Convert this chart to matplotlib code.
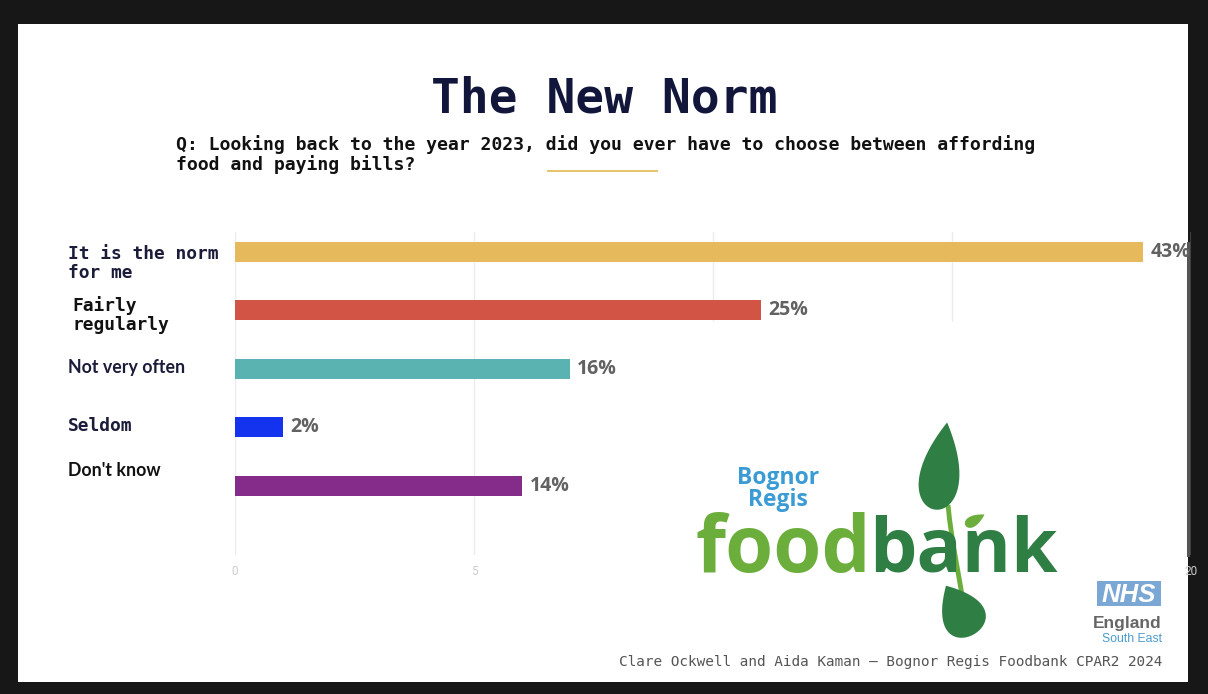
import numpy as np
import matplotlib
matplotlib.use("Agg")
from matplotlib import pyplot as plt
from matplotlib.patches import Rectangle, Polygon
from matplotlib.path import Path
from matplotlib.patches import PathPatch

# data
answers = ["It is the norm\nfor me", "Fairly\nregularly", "Not very often", "Seldom", "Don't know"]
counts = [19, 11, 7, 1, 6]
percent_labels = ["43%", "25%", "16%", "2%", "14%"]
bar_colors = ["#e5b95c", "#d15444", "#5ab3b1", "#1433ef", "#852b8a"]
x_ticks = [0, 5, 10, 15, 20]
# 10 and 15 sit behind the logo in the original
x_tick_labels = ["0", "5", "", "", "20"]

W, H = 1208, 694
fig = plt.figure(figsize=(W / 100, H / 100), dpi=100)
fig.patch.set_facecolor("#171717")

# background layer in pixel coords
bg = fig.add_axes([0, 0, 1, 1], zorder=-1)
bg.set_xlim(0, W)
bg.set_ylim(H, 0)
bg.axis("off")
bg.add_patch(Rectangle((18, 24), 1170, 658, facecolor="white", edgecolor="none"))
bg.plot([1188, 1188], [243, 555], color="#555555", lw=2.2)

bg.text(604, 112, "The New Norm", family="DejaVu Sans Mono", weight="bold",
        fontsize=34.5, color="#12163a", ha="center", va="baseline")
bg.text(176, 149.5, "Q: Looking back to the year 2023, did you ever have to choose between affording",
        family="DejaVu Sans Mono", weight="bold", fontsize=13.05, color="#111111", va="baseline")
bg.text(176, 170, "food and paying bills?",
        family="DejaVu Sans Mono", weight="bold", fontsize=13.05, color="#111111", va="baseline")
bg.plot([548, 657], [171, 171], color="#e6c36a", lw=1.4)

# chart
ax = fig.add_axes([235 / W, 1 - 555 / H, (1191 - 235) / W, (555 - 232) / H], zorder=0)
ax.set_facecolor("none")
y = np.arange(len(counts))
ax.barh(y, counts, height=0.34, color=bar_colors, zorder=2)
ax.set_xlim(0, 20)
ax.set_ylim(5.18, -0.34)
ax.set_xticks(x_ticks)
ax.set_xticklabels(x_tick_labels, family="Roboto", fontsize=8.5, color="#cccccc")
ax.tick_params(axis="x", length=0, pad=7)
ax.set_yticks([])
ax.grid(axis="x", color="#ececec", lw=1, zorder=0)
for s in ax.spines.values():
    s.set_visible(False)

for yi, c, lab in zip(y, counts, percent_labels):
    ax.text(c + 0.16, yi, lab, family="Open Sans", weight="bold", fontsize=14,
            color="#626262", va="center", ha="left", clip_on=False)

label_style = [
    dict(family="DejaVu Sans Mono", color="#1b1b3a", dx=-0.1747, dy=0.20),
    dict(family="DejaVu Sans Mono", color="#111111", dx=-0.1705, dy=0.08),
    dict(family="Lato", color="#1b1b3a", dx=-0.1747, dy=-0.03),
    dict(family="DejaVu Sans Mono", color="#1b1b3a", dx=-0.1747, dy=-0.03),
    dict(family="Lato", color="#111111", dx=-0.1747, dy=-0.26),
]
for yi, lab, st in zip(y, answers, label_style):
    fs = 12.9 if "Mono" in st["family"] else 12.8
    ax.text(st["dx"], yi + st["dy"], lab, transform=ax.get_yaxis_transform(),
            family=st["family"], weight="bold", fontsize=fs, color=st["color"],
            ha="left", va="center", linespacing=1.05, clip_on=False)

# overlay: logos and footer
ov = fig.add_axes([0, 0, 1, 1], zorder=2)
ov.set_xlim(0, W)
ov.set_ylim(H, 0)
ov.axis("off")
ov.add_patch(Rectangle((670, 322), 405, 323, facecolor="white", edgecolor="none"))


def teardrop(cx, cy, a, b, angle, color):
    t = np.linspace(0, 2 * np.pi, 120)
    xs = a * np.sin(t) * np.sin(t / 2)
    ys = -b * np.cos(t)
    th = np.deg2rad(angle)
    xr = xs * np.cos(th) - ys * np.sin(th)
    yr = xs * np.sin(th) + ys * np.cos(th)
    ov.add_patch(Polygon(np.column_stack([cx + xr, cy + yr]), closed=True,
                         facecolor=color, edgecolor="none"))


dark_green = "#2f7f45"
light_green = "#6cae3c"

ov.text(778, 484, "Bognor", family="Open Sans", weight="bold", fontsize=16.5,
        color="#3a9bd5", ha="center", va="baseline")
ov.text(778, 506, "Regis", family="Open Sans", weight="bold", fontsize=16.5,
        color="#3a9bd5", ha="center", va="baseline")
ov.text(871, 572, "food", family="Open Sans", weight="bold", fontsize=56,
        color=light_green, ha="right", va="baseline")
ov.text(869, 572, "bank", family="Open Sans", weight="bold", fontsize=54,
        color=dark_green, ha="left", va="baseline")

# stem and leaves
stem = Path([(948, 505), (952, 545), (958, 570), (962, 595)],
            [Path.MOVETO, Path.CURVE4, Path.CURVE4, Path.CURVE4])
ov.add_patch(PathPatch(stem, facecolor="none", edgecolor=light_green, lw=3.5))
teardrop(941, 466, 26, 44, 8, dark_green)
teardrop(975, 520, 7, 11, 60, light_green)
teardrop(960, 610, 28, 28, -30, dark_green)

# NHS block
ov.add_patch(Rectangle((1097, 581), 64, 25, facecolor="#7aa7d3", edgecolor="none"))
ov.text(1129, 602, "NHS", family="Liberation Sans", weight="bold", style="italic",
        fontsize=18.5, color="white", ha="center", va="baseline")
ov.text(1162, 628, "England", family="Liberation Sans", weight="bold",
        fontsize=12.5, color="#666666", ha="right", va="baseline")
ov.text(1162, 642, "South East", family="Liberation Sans",
        fontsize=8.8, color="#4b9bd0", ha="right", va="baseline")

ov.text(1162, 666, "Clare Ockwell and Aida Kaman \u2013 Bognor Regis Foodbank CPAR2 2024",
        family="DejaVu Sans Mono", fontsize=10.4, color="#555555", ha="right", va="baseline")

fig.savefig("out.png", dpi=100, facecolor=fig.get_facecolor())
